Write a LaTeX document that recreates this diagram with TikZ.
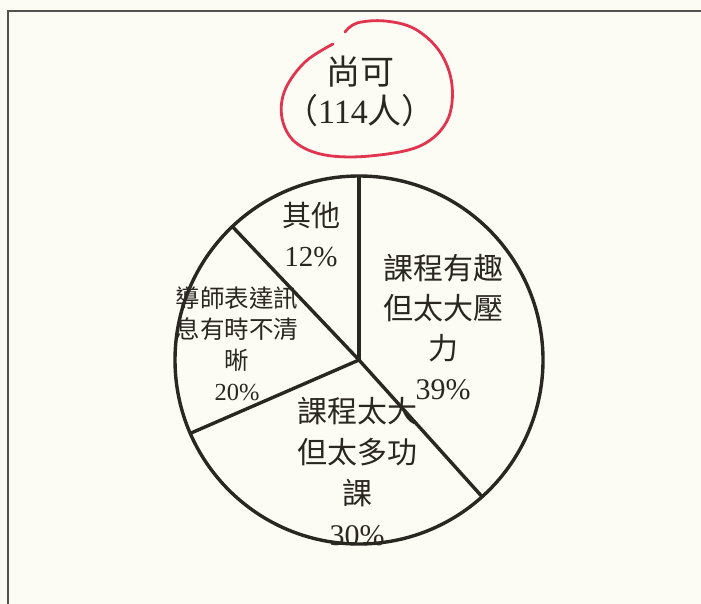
\documentclass[tikz,border=0pt]{standalone}
\usepackage{fontspec}
\setmainfont{Liberation Serif}
\newfontfamily\cjk{Noto Sans CJK TC}
\definecolor{paper}{HTML}{FDFCF4}
\definecolor{pen}{HTML}{E0344F}
\definecolor{ink}{HTML}{2A2622}
\tikzset{
  lbl/.style={align=center, text=ink, inner sep=0pt, font=\fontsize{30}{40}\selectfont\cjk},
  sml/.style={align=center, text=ink, inner sep=0pt, font=\fontsize{24.5}{31}\selectfont\cjk},
}
\begin{document}
\begin{tikzpicture}[x=1pt, y=-1pt]
    \fill[paper] (0,0) rectangle (701,604);
    \useasboundingbox (0,0) rectangle (701,604);
    % frame
    \draw[line width=1.4pt, ink!80] (701,11) -- (8,11) -- (8,604);

    % title, circled in red
    \node[lbl, font=\fontsize{34}{39}\selectfont\cjk] (title) at (360,91) {尚可\\（{\rmfamily 114}人）};
    \draw[pen, line width=2.8pt, line cap=round] plot[smooth, tension=0.6] coordinates {
      (333,44) (305,62) (285,90) (282,118) (295,142) (325,155) (370,156)
      (420,146) (447,121) (452,85) (440,52) (415,29) (385,21) (357,23) (345,32)};

    % pie
    \coordinate (c) at (359,360);
    \draw[ink, line width=3.4pt] (c) circle (184);
    \foreach \a in {90, -48, 203.5, 133.5} { \draw[ink, line width=3.4pt] (c) -- ++(\a:184 and -184); }

    \node[lbl, font=\fontsize{29}{40}\selectfont\cjk] (other) at (311,235) {其他\\{\rmfamily 12\%}};
    \node[lbl] (fun) at (443,327) {課程有趣\\但太大壓\\力\\{\rmfamily 39\%}};
    \node[lbl, font=\fontsize{30}{41}\selectfont\cjk] (work) at (357,472) {課程太大\\但太多功\\課\\{\rmfamily 30\%}};
    \node[sml] (tutor) at (237,344) {導師表達訊\\息有時不清\\晰\\{\rmfamily 20\%}};
  \end{tikzpicture}
\end{document}
